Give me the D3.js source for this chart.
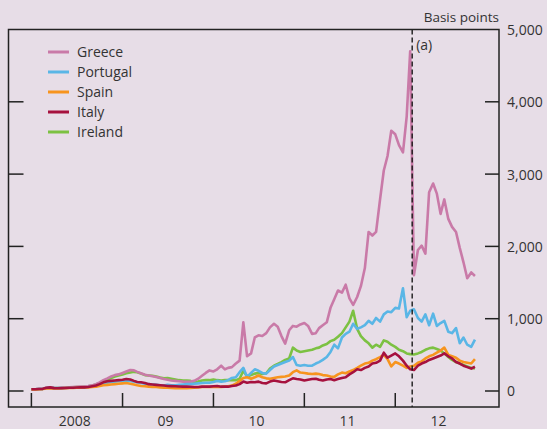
<!DOCTYPE html>
<html>
<head>
<meta charset="utf-8">
<script src="https://cdn.jsdelivr.net/npm/d3@7"></script>
<style>
    body { margin: 0; background: #e7dde7; }
    svg { display: block; font-family: "Open Sans", sans-serif; }
</style>
</head>
<body>
<div id="chart"></div>
<script>
// Ten-year government bond spreads over Bunds, basis points (half-monthly readings)

let countries = ["Greece", "Portugal", "Spain", "Italy", "Ireland"];
let colors = ["#c97aa8", "#5ab6e6", "#f7941e", "#a6113e", "#7cc142"];
let yTicks = [0, 1000, 2000, 3000, 4000, 5000];
let yearLabels = ["2008", "09", "10", "11", "12"];

let greece = [25, 25, 30, 32, 45, 50, 42, 42, 45, 48, 52, 55,
    58, 60, 62, 68, 78, 95, 120, 150, 175, 200, 220, 230,
    250, 270, 290, 285, 265, 245, 225, 215, 205, 195, 180, 165,
    155, 145, 140, 135, 130, 128, 130, 140, 170, 210, 250, 285,
    270, 300, 350, 300, 320, 330, 380, 420, 950, 480, 520, 740,
    770, 760, 800, 880, 930, 890, 760, 655, 840, 900, 890, 920,
    940, 900, 790, 800, 870, 910, 950, 1150, 1270, 1390, 1360, 1470,
    1280, 1190, 1300, 1450, 1700, 2200, 2150, 2200, 2650, 3050, 3250, 3600,
    3550, 3400, 3300, 3800, 4700, 1600, 1950, 2010, 1900, 2750, 2870, 2730,
    2450, 2650, 2380, 2270, 2200, 1980, 1780, 1560, 1640, 1590];

let portugal = [22, 24, 28, 30, 40, 45, 40, 40, 40, 42, 45, 45,
    48, 50, 52, 55, 62, 70, 85, 100, 115, 125, 130, 135,
    140, 145, 140, 130, 120, 110, 100, 95, 90, 85, 80, 75,
    85, 80, 80, 85, 90, 95, 95, 100, 105, 110, 115, 115,
    125, 140, 130, 135, 150, 180, 190, 260, 320, 195, 250, 300,
    280, 250, 240, 290, 340, 360, 380, 400, 420, 470, 360, 350,
    360, 350, 350, 380, 400, 430, 470, 540, 640, 590, 740, 790,
    820, 930, 860, 880, 910, 970, 930, 1010, 960, 1060, 1100, 1090,
    1150, 1140, 1420, 1020, 1110, 1130, 1010, 960, 1060, 910, 1070, 900,
    940, 970, 820, 800, 870, 660, 740, 640, 610, 710];

let spain = [20, 22, 25, 28, 35, 40, 35, 35, 38, 40, 42, 42,
    45, 45, 48, 50, 55, 60, 70, 80, 85, 90, 95, 100,
    105, 110, 100, 90, 80, 70, 65, 60, 55, 55, 50, 45,
    45, 42, 40, 38, 38, 40, 42, 45, 50, 55, 55, 55,
    55, 60, 55, 60, 65, 75, 100, 140, 180, 190, 170, 190,
    215, 190, 175, 170, 180, 190, 195, 200, 215, 260, 285, 255,
    250, 240, 235, 240, 235, 220, 215, 200, 195, 230, 255, 245,
    270, 290, 320, 350, 380, 390, 420, 440, 470, 500, 440, 340,
    400, 380, 350, 320, 340, 350, 390, 410, 450, 480, 500, 530,
    560, 600, 500, 480, 460, 420, 400, 390, 380, 440];

let italy = [25, 25, 28, 30, 45, 50, 40, 38, 40, 42, 45, 45,
    48, 50, 50, 55, 65, 75, 95, 120, 135, 140, 145, 150,
    155, 165, 160, 140, 125, 120, 110, 95, 90, 85, 80, 75,
    70, 68, 65, 62, 60, 60, 58, 55, 55, 60, 62, 60,
    65, 70, 60, 62, 60, 70, 75, 95, 130, 115, 125, 120,
    130, 110, 105, 130, 145, 135, 125, 120, 150, 175, 165, 160,
    145, 155, 165, 170, 155, 145, 160, 165, 150, 165, 180, 190,
    230, 260, 300, 290, 320, 340, 380, 390, 420, 530, 460, 490,
    520, 480, 420, 350, 300, 290, 350, 380, 400, 430, 450, 470,
    490, 520, 480, 450, 400, 380, 350, 330, 310, 335];

let ireland = [25, 25, 28, 30, 40, 45, 40, 40, 42, 45, 50, 50,
    55, 55, 60, 65, 75, 90, 110, 140, 160, 180, 200, 215,
    230, 245, 255, 265, 260, 240, 220, 215, 210, 200, 185, 175,
    180, 170, 160, 150, 145, 145, 140, 125, 130, 145, 150, 150,
    160, 150, 145, 150, 150, 150, 150, 170, 280, 200, 220, 240,
    250, 235, 245, 310, 350, 375, 400, 430, 450, 600, 560, 540,
    550, 560, 570, 590, 600, 630, 650, 690, 710, 750, 800, 880,
    960, 1110, 860, 760, 700, 660, 600, 640, 610, 700, 680, 640,
    610, 570, 550, 520, 510, 505, 520, 540, 570, 590, 600, 580,
    560, 520, 470, 430, 400, 380, 360, 340, 320, 310];

let seriesValues = [greece, portugal, spain, italy, ireland];

// 1st and 16th of each month from January 2008
let dates = d3.range(greece.length).map(i => new Date(2008, Math.floor(i / 2), i % 2 ? 16 : 1));

let width = 547, height = 429;
let frame = {left: 8.5, right: 499, top: 29.5, bottom: 407};

let svg = d3.select("#chart").append("svg")
    .attr("width", width)
    .attr("height", height);

svg.append("rect")
    .attr("width", width)
    .attr("height", height)
    .attr("fill", "#e7dde7");

let x = d3.scaleTime()
    .domain([new Date(2008, 0, 1), new Date(2013, 0, 1)])
    .range([31.4, 486.4]);

let y = d3.scaleLinear()
    .domain([0, 5000])
    .range([391, 29.5]);

// lines (Ireland underneath, Italy on top)
let line = d3.line()
    .x((d, i) => x(dates[i]))
    .y(d => y(d));

let drawOrder = [4, 0, 1, 2, 3];
drawOrder.forEach(function(k){
    svg.append("path")
        .datum(seriesValues[k])
        .attr("fill", "none")
        .attr("stroke", colors[k])
        .attr("stroke-width", 2.6)
        .attr("stroke-linejoin", "round")
        .attr("d", line);
});

// dashed marker (a)
let markerDate = new Date(2012, 2, 9);
svg.append("line")
    .attr("x1", x(markerDate)).attr("x2", x(markerDate))
    .attr("y1", frame.top).attr("y2", frame.bottom)
    .attr("stroke", "#1a1a1a")
    .attr("stroke-width", 1.4)
    .attr("stroke-dasharray", "5,3");

svg.append("text")
    .text("(a)")
    .attr("x", x(markerDate) + 4)
    .attr("y", 50)
    .attr("font-size", 14)
    .attr("fill", "#333");

// frame
svg.append("rect")
    .attr("x", frame.left)
    .attr("y", frame.top)
    .attr("width", frame.right - frame.left)
    .attr("height", frame.bottom - frame.top)
    .attr("fill", "none")
    .attr("stroke", "#222")
    .attr("stroke-width", 1.5);

// y ticks on both sides, labels on the right
let yAxisRight = d3.axisRight(y).tickValues(yTicks).tickSize(0).tickFormat(d3.format(","));
let gy = svg.append("g")
    .attr("transform", "translate(" + (frame.right + 8) + ",0)")
    .call(yAxisRight);
gy.select(".domain").remove();
gy.selectAll("text")
    .attr("x", 0)
    .attr("dy", "0.35em")
    .attr("font-family", "Open Sans")
    .attr("font-size", 14)
    .attr("fill", "#333");

yTicks.slice(0, -1).forEach(function(t){
    svg.append("line")
        .attr("x1", frame.left).attr("x2", frame.left + 15)
        .attr("y1", y(t)).attr("y2", y(t))
        .attr("stroke", "#222").attr("stroke-width", 1.5);
    svg.append("line")
        .attr("x1", frame.right - 14).attr("x2", frame.right)
        .attr("y1", y(t)).attr("y2", y(t))
        .attr("stroke", "#222").attr("stroke-width", 1.5);
});

svg.append("text")
    .text("Basis points")
    .attr("x", frame.right)
    .attr("y", 22)
    .attr("text-anchor", "end")
    .attr("font-size", 13.5)
    .attr("fill", "#333");

// x ticks at year starts, labels mid-year
let yearStarts = yearLabels.map((d, i) => new Date(2008 + i, 0, 1));
yearStarts.forEach(function(d){
    svg.append("line")
        .attr("x1", x(d)).attr("x2", x(d))
        .attr("y1", frame.bottom - 14).attr("y2", frame.bottom)
        .attr("stroke", "#222").attr("stroke-width", 1.5);
});

svg.selectAll(".year-label").data(yearLabels)
    .enter()
    .append("text")
    .attr("class", "year-label")
    .text(d => d)
    .attr("x", (d, i) => x(new Date(2008 + i, 6, 1)) - 2)
    .attr("y", 426)
    .attr("text-anchor", "middle")
    .attr("font-size", 14)
    .attr("fill", "#333");

// legend
let legend = svg.selectAll(".legend").data(countries)
    .enter()
    .append("g")
    .attr("class", "legend")
    .attr("transform", (d, i) => "translate(48," + (52 + i * 20) + ")");

legend.append("line")
    .attr("x1", 0).attr("x2", 21)
    .attr("stroke", (d, i) => colors[i])
    .attr("stroke-width", 3);

legend.append("text")
    .text(d => d)
    .attr("x", 29)
    .attr("y", 5)
    .attr("font-size", 14)
    .attr("fill", "#333");
</script>
</body>
</html>
